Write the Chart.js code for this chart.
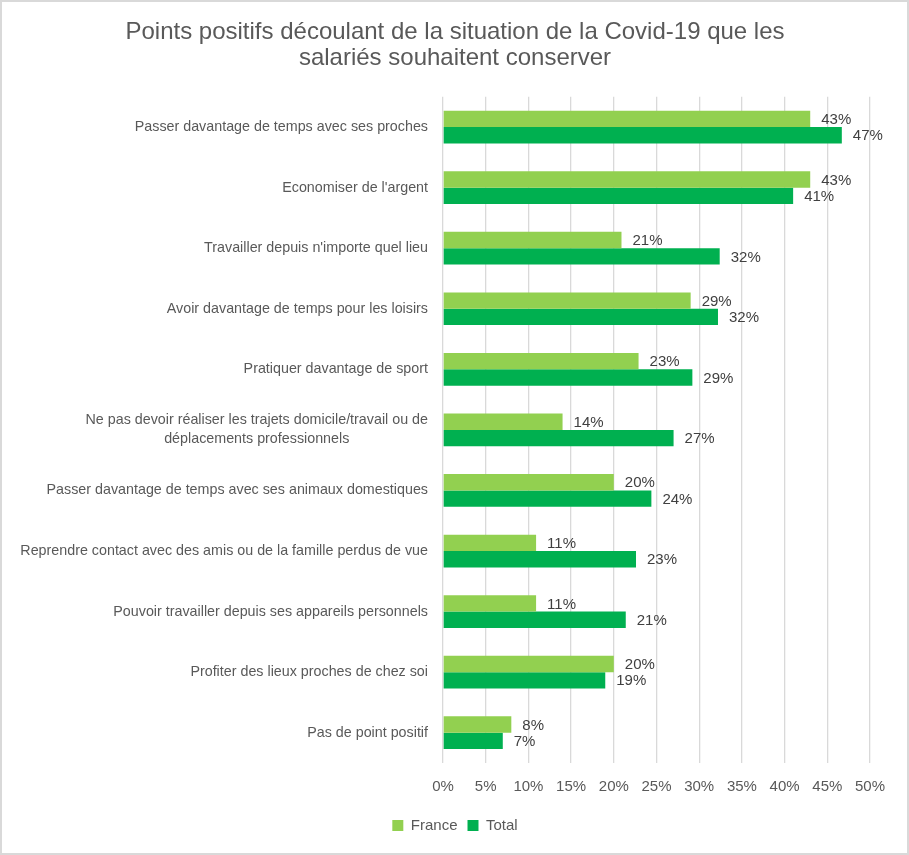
<!DOCTYPE html>
<html>
<head>
<meta charset="utf-8">
<script src="https://cdn.jsdelivr.net/npm/chart.js@4"></script>
<style>
  html, body { margin: 0; padding: 0; background: #ffffff; }
  #wrap { position: relative; width: 909px; height: 855px; }
</style>
</head>
<body>
<div id="wrap"><canvas id="c"></canvas></div>
<script>
const titleLines = [
  "Points positifs découlant de la situation de la Covid-19 que les",
  "salariés souhaitent conserver"
];
const categories = [
  ["Passer davantage de temps avec ses proches"],
  ["Economiser de l'argent"],
  ["Travailler depuis n'importe quel lieu"],
  ["Avoir davantage de temps pour les loisirs"],
  ["Pratiquer davantage de sport"],
  ["Ne pas devoir réaliser les trajets domicile/travail ou de", "déplacements professionnels"],
  ["Passer davantage de temps avec ses animaux domestiques"],
  ["Reprendre contact avec des amis ou de la famille perdus de vue"],
  ["Pouvoir travailler depuis ses appareils personnels"],
  ["Profiter des lieux proches de chez soi"],
  ["Pas de point positif"]
];
const seriesNames = ["France", "Total"];
const franceValues = [43.0, 43.0, 20.9, 29.0, 22.9, 14.0, 20.0, 10.9, 10.9, 20.0, 8.0];
const totalValues  = [46.7, 41.0, 32.4, 32.2, 29.2, 27.0, 24.4, 22.6, 21.4, 19.0, 7.0];
const xTickMin = 0, xTickMax = 50, xTickStep = 5;

const FONT = "'Liberation Sans', Arial, sans-serif";
const GRAY = "#595959";

const borderPlugin = {
  id: 'chartBorder',
  beforeDraw(chart) {
    const ctx = chart.ctx;
    ctx.save();
    ctx.fillStyle = '#ffffff';
    ctx.fillRect(0, 0, chart.width, chart.height);
    ctx.strokeStyle = '#d9d9d9';
    ctx.lineWidth = 2;
    ctx.strokeRect(1, 1, chart.width - 2, chart.height - 2);
    ctx.restore();
  }
};

const categoryLabelPlugin = {
  id: 'categoryLabels',
  afterDraw(chart) {
    const ctx = chart.ctx;
    const yScale = chart.scales.y;
    const right = chart.chartArea.left - 15;
    ctx.save();
    ctx.font = "14.3px " + FONT;
    ctx.fillStyle = GRAY;
    ctx.textBaseline = 'middle';
    const lh = 19;
    yScale.ticks.forEach((t, i) => {
      const lines = categories[i];
      const yc = yScale.getPixelForTick(i);
      const maxW = Math.max(...lines.map(l => ctx.measureText(l).width));
      const y0 = yc - (lines.length - 1) * lh / 2;
      lines.forEach((line, k) => {
        if (lines.length === 1) {
          ctx.textAlign = 'right';
          ctx.fillText(line, right, y0);
        } else {
          ctx.textAlign = 'center';
          ctx.fillText(line, right - maxW / 2, y0 + k * lh);
        }
      });
    });
    ctx.restore();
  }
};

const dataLabelPlugin = {
  id: 'barValueLabels',
  afterDatasetsDraw(chart) {
    const ctx = chart.ctx;
    ctx.save();
    ctx.font = "15px " + FONT;
    ctx.fillStyle = "#404040";
    ctx.textAlign = 'left';
    ctx.textBaseline = 'middle';
    chart.data.datasets.forEach((ds, di) => {
      const meta = chart.getDatasetMeta(di);
      meta.data.forEach((bar, i) => {
        const v = ds.data[i];
        ctx.fillText(Math.round(v) + '%', bar.x + 11, bar.y + 1);
      });
    });
    ctx.restore();
  }
};

new Chart(document.getElementById('c'), {
  type: 'bar',
  data: {
    labels: categories.map(c => c.join(' ')),
    datasets: [
      { label: seriesNames[0], data: franceValues, backgroundColor: '#92d050', borderWidth: 0 },
      { label: seriesNames[1], data: totalValues, backgroundColor: '#00b050', borderWidth: 0 }
    ]
  },
  options: {
    indexAxis: 'y',
    responsive: true,
    maintainAspectRatio: false,
    animation: false,
    devicePixelRatio: 1,
    categoryPercentage: 0.54,
    barPercentage: 1.0,
    layout: { padding: { left: 40, right: 39, top: 0, bottom: 12 } },
    plugins: {
      title: {
        display: true,
        text: titleLines,
        color: GRAY,
        font: { family: FONT, size: 24, weight: 'normal', lineHeight: 1.1 },
        padding: { top: 19, bottom: 25 }
      },
      legend: {
        display: true,
        position: 'bottom',
        labels: {
          color: GRAY,
          font: { family: FONT, size: 15 },
          boxWidth: 11,
          boxHeight: 11,
          padding: 10
        }
      },
      tooltip: { enabled: false }
    },
    scales: {
      x: {
        min: xTickMin,
        max: xTickMax,
        ticks: {
          stepSize: xTickStep,
          color: GRAY,
          font: { family: FONT, size: 15 },
          padding: 15,
          callback: v => v + '%'
        },
        grid: { color: '#d9d9d9', lineWidth: 1.3, drawTicks: false },
        border: { display: false },
        afterFit(scale) { scale.height = 45; }
      },
      y: {
        ticks: { display: false },
        grid: { display: false },
        border: { display: false },
        afterFit(scale) { scale.width = 403; }
      }
    }
  },
  plugins: [borderPlugin, categoryLabelPlugin, dataLabelPlugin]
});
</script>
</body>
</html>
